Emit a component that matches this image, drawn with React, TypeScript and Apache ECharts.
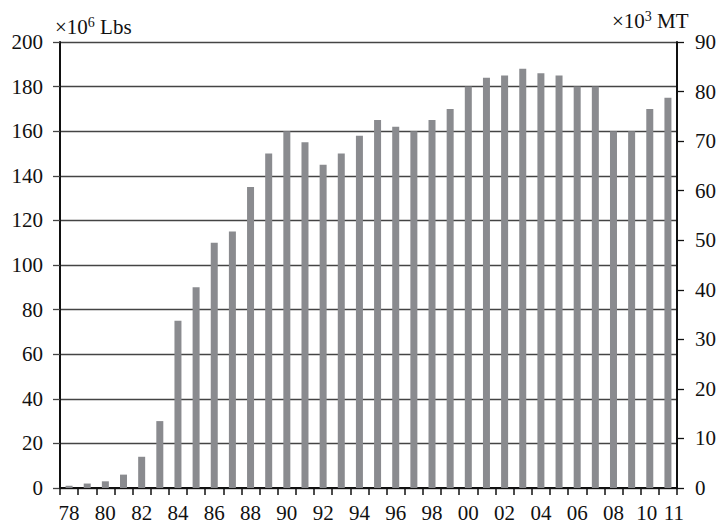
import React, { useEffect, useRef } from "react";
import * as echarts from "echarts";

const years = ["78","79","80","81","82","83","84","85","86","87","88","89","90","91","92","93","94","95","96","97","98","99","00","01","02","03","04","05","06","07","08","09","10","11"];
const lbsValues = [1,2,3,6,14,30,75,90,110,115,135,150,160,155,145,150,158,165,162,160,165,170,180,184,185,188,186,185,180,180,160,160,170,175];
const leftMax = 200;
const leftStep = 20;
const rightMax = 90;
const rightStep = 10;

const FONT = "'Liberation Serif', 'Times New Roman', serif";
const FS = 21;

export default function App() {
  const ref = useRef<HTMLDivElement>(null);
  useEffect(() => {
    document.body.style.margin = "0";
    const chart = echarts.init(ref.current!, null, { renderer: "svg" });
    const lastIdx = years.length - 1;
    const rich = {
      a: { fontSize: FS, fontFamily: FONT, fill: "#111" },
      s: { fontSize: 14, fontFamily: FONT, fill: "#111", padding: [0, 0, 9, 0] },
    };
    const labelStyle = { margin: 14, fontSize: FS, fontFamily: FONT, color: "#111", hideOverlap: false };
    chart.setOption({
      animation: false,
      backgroundColor: "#ffffff",
      textStyle: { fontFamily: FONT },
      grid: { left: 60, right: 39, top: 42, bottom: 36, containLabel: false },
      graphic: [
        {
          type: "text",
          left: 55,
          top: 15,
          style: { text: "{a|×10}{s|6}{a| Lbs}", rich },
        },
        {
          type: "text",
          left: 612,
          top: 9,
          style: { text: "{a|×10}{s|3}{a| MT}", rich },
        },
      ],
      xAxis: [
        {
          type: "category",
          data: years,
          position: "bottom",
          boundaryGap: true,
          axisLine: { show: true, lineStyle: { color: "#111", width: 2 } },
          axisTick: { show: true, interval: 0, length: 7, lineStyle: { color: "#111", width: 1.5 } },
          axisLabel: {
            ...labelStyle,
            interval: (i: number) => (i % 2 === 0 && i !== lastIdx - 1) || i === lastIdx,
            showMaxLabel: true,
            formatter: (v: string, i: number) => (i === lastIdx ? "{r|" + v + "}" : v),
            rich: { r: { fontSize: FS, fontFamily: FONT, color: "#111", padding: [0, 0, 0, 12] } },
          },
        },
        {
          type: "category",
          data: years,
          position: "bottom",
          offset: 0,
          boundaryGap: true,
          axisLine: { show: false },
          axisTick: { show: false },
          splitLine: { show: false },
          axisLabel: {
            ...labelStyle,
            interval: (i: number) => i === lastIdx - 1,
            showMaxLabel: false,
            showMinLabel: false,
            formatter: (v: string) => "{l|" + v + "}",
            rich: { l: { fontSize: FS, fontFamily: FONT, color: "#111", padding: [0, 6, 0, 0] } },
          },
        },
      ],
      yAxis: [
        {
          type: "value",
          min: 0,
          max: leftMax,
          interval: leftStep,
          position: "left",
          axisLine: { show: true, lineStyle: { color: "#111", width: 2 } },
          axisTick: { show: true, length: 7, inside: false, lineStyle: { color: "#444", width: 1.3 } },
          axisLabel: { margin: 17, fontSize: FS, fontFamily: FONT, color: "#111" },
          splitLine: { show: true, lineStyle: { color: "#444", width: 1.3 } },
        },
        {
          type: "value",
          min: 0,
          max: rightMax,
          interval: rightStep,
          position: "right",
          axisLine: { show: true, lineStyle: { color: "#111", width: 2 } },
          axisTick: { show: true, length: 7, inside: false, lineStyle: { color: "#111", width: 1.3 } },
          axisLabel: { margin: 18, fontSize: FS, fontFamily: FONT, color: "#111" },
          splitLine: { show: false },
        },
      ],
      series: [
        {
          type: "bar",
          xAxisIndex: 0,
          yAxisIndex: 0,
          data: lbsValues,
          barWidth: 7,
          itemStyle: { color: "#8a8b8f" },
        },
      ],
    });
    return () => chart.dispose();
  }, []);
  return <div ref={ref} style={{ width: 719, height: 524 }} />;
}
